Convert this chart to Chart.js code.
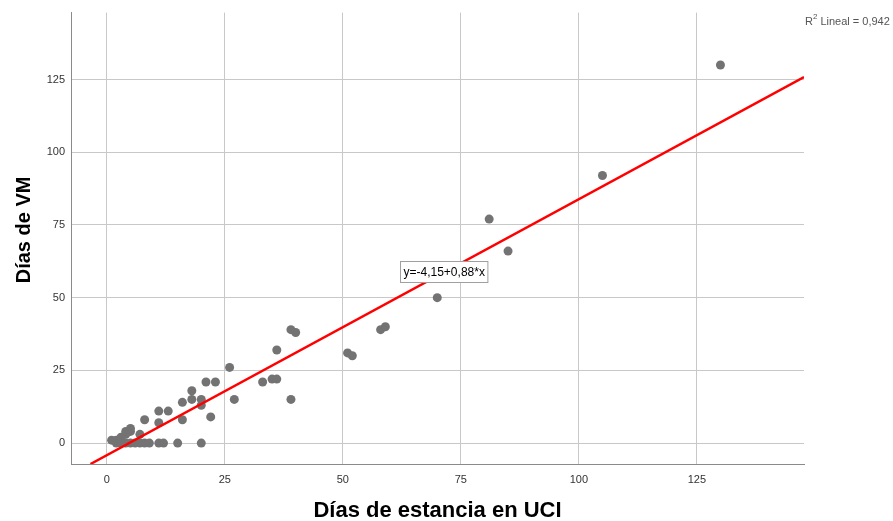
<!DOCTYPE html>
<html>
<head>
<meta charset="utf-8">
<script src="https://cdn.jsdelivr.net/npm/chart.js@4.4.1/dist/chart.umd.min.js"></script>
<style>
    html, body { margin: 0; padding: 0; background: #fff; }
    #wrap { width: 893px; height: 521px; position: relative; }
</style>
</head>
<body>
<div id="wrap"><canvas id="myChart" width="893" height="521"></canvas></div>
<script>
// Días de estancia en UCI (x) vs Días de VM (y)
const uciDays = [1, 2, 2, 3, 3, 4, 4, 4, 5, 5, 5, 6, 7, 7, 8, 8, 9, 11, 12, 11, 11, 13, 15, 16, 16, 18, 18, 20, 20, 20, 21, 22, 23, 26, 27, 33, 35, 36, 36, 39, 39, 40, 51, 52, 58, 59, 70, 81, 85, 105, 130]
const vmDays = [1, 0, 1, 2, 0, 0, 3, 4, 5, 4, 0, 0, 3, 0, 0, 8, 0, 0, 0, 7, 11, 11, 0, 8, 14, 15, 18, 15, 13, 0, 21, 9, 21, 26, 15, 21, 22, 22, 32, 15, 39, 38, 31, 30, 39, 40, 50, 77, 66, 92, 130]

// fit line reported by the chart
const intercept = -4.15
const slope = 0.88
const rSquared = '0,942'
const tickValues = [0, 25, 50, 75, 100, 125]

const xMin = -7.6, xMax = 147.7
const yMin = -7.2, yMax = 148

const points = uciDays.map((x, i) => ({ x: x, y: vmDays[i] }))

// line runs from the bottom edge of the plot to the right edge
const lineStart = (yMin - intercept) / slope
const fitLine = [lineStart, xMax].map(x => ({ x: x, y: intercept + slope * x }))

const font = "'Liberation Sans', Arial, sans-serif"

// equation label and R2 note
const labelsPlugin = {
    id: 'labels',
    afterDraw(chart) {
        const ctx = chart.ctx
        const xs = chart.scales.x
        const ys = chart.scales.y
        ctx.save()

        const text = 'y=' + String(intercept).replace('.', ',') + '+' + String(slope).replace('.', ',') + '*x'
        ctx.font = '12px ' + font
        const w = ctx.measureText(text).width
        const bx = Math.round(xs.getPixelForValue(62)) + 0.5
        const by = Math.round(ys.getPixelForValue(62.5)) + 0.5
        ctx.fillStyle = '#fff'
        ctx.fillRect(bx, by, w + 6, 21)
        ctx.strokeStyle = '#a0a0a0'
        ctx.lineWidth = 1
        ctx.strokeRect(bx, by, w + 6, 21)
        ctx.fillStyle = '#000'
        ctx.textBaseline = 'middle'
        ctx.fillText(text, bx + 3, by + 11)

        // R2 Lineal
        ctx.fillStyle = '#555'
        ctx.font = '11px ' + font
        ctx.textBaseline = 'alphabetic'
        let px = 805
        ctx.fillText('R', px, 25)
        px += ctx.measureText('R').width
        ctx.font = '8px ' + font
        ctx.fillText('2', px, 19)
        px += ctx.measureText('2').width + 3
        ctx.font = '11px ' + font
        ctx.fillText('Lineal = ' + rSquared, px, 25)
        ctx.restore()
    }
}

const data = {
    datasets: [
        {
            type: 'line',
            data: fitLine,
            borderColor: '#ff0000',
            borderWidth: 2.5,
            pointRadius: 0,
            fill: false,
            order: 0
        },
        {
            type: 'scatter',
            data: points,
            backgroundColor: '#737373',
            borderColor: '#737373',
            pointRadius: 4.5,
            pointBorderWidth: 0,
            order: 1
        }
    ]
}

const axisTitle = (text, size, pad) => ({
    display: true,
    text: text,
    color: '#000',
    font: { family: font, size: size, weight: 'bold', lineHeight: 1 },
    padding: pad
})

const config = {
    type: 'scatter',
    data: data,
    plugins: [labelsPlugin],
    options: {
        responsive: false,
        animation: false,
        layout: {
            padding: { left: 0, top: 12, right: 89, bottom: 0 }
        },
        plugins: {
            legend: { display: false },
            tooltip: { enabled: false }
        },
        scales: {
            x: {
                type: 'linear',
                min: xMin,
                max: xMax,
                afterBuildTicks: scale => { scale.ticks = tickValues.map(v => ({ value: v })) },
                afterFit: scale => { scale.height = 57 },
                ticks: {
                    includeBounds: false,
                    color: '#333',
                    padding: 9,
                    font: { family: font, size: 11 }
                },
                grid: { color: '#c8c8c8', drawTicks: false },
                border: { color: '#8a8a8a', width: 1 },
                title: axisTitle('Días de estancia en UCI', 22, { bottom: -1 })
            },
            y: {
                type: 'linear',
                min: yMin,
                max: yMax,
                afterBuildTicks: scale => { scale.ticks = tickValues.map(v => ({ value: v })) },
                afterFit: scale => { scale.width = 71 },
                ticks: {
                    includeBounds: false,
                    color: '#333',
                    padding: 6,
                    font: { family: font, size: 11 }
                },
                grid: { color: '#c8c8c8', drawTicks: false },
                border: { color: '#8a8a8a', width: 1 },
                // leading spaces lift the title a little above the plot centre, as in the original
                title: axisTitle('   Días de VM', 20, { top: 14 })
            }
        }
    }
}

new Chart(document.getElementById('myChart'), config)
</script>
</body>
</html>
